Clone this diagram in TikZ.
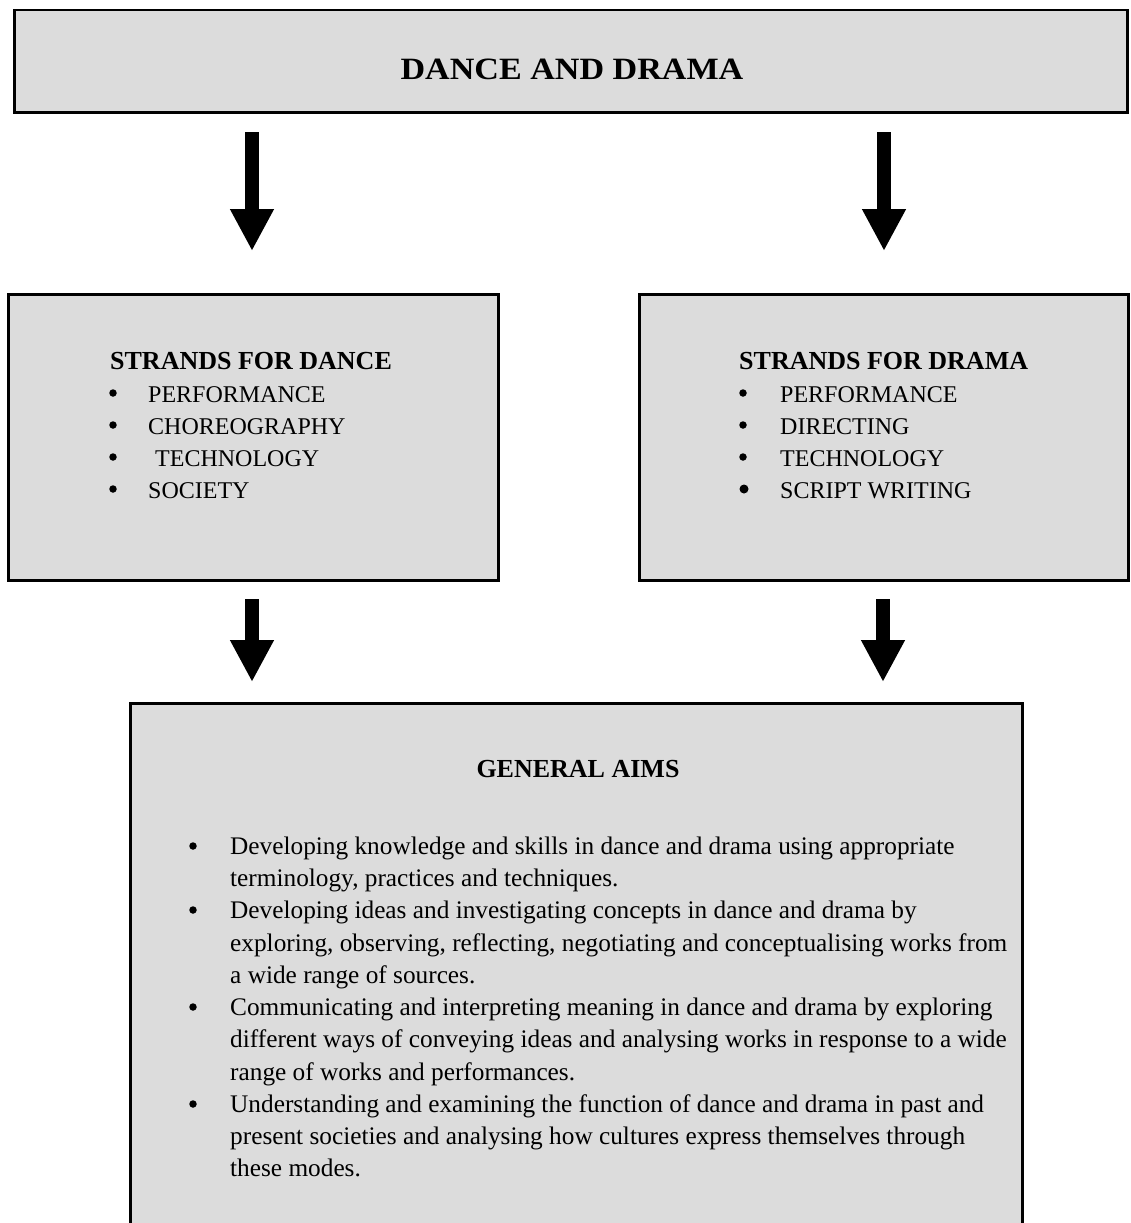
\documentclass[tikz,border=0pt]{standalone}
\usepackage{fontspec}
\setmainfont{Liberation Serif}
\newfontfamily\widefam{Liberation Serif}[FakeStretch=1.1]
\usetikzlibrary{arrows.meta}
\definecolor{boxgray}{RGB}{220,220,220}
\begin{document}
\begin{tikzpicture}[x=1pt,y=-1pt,
  box/.style={draw=black, line width=2.5pt, fill=boxgray, inner sep=0pt, anchor=north west},
  bigarrow/.style={line width=14pt, -{Triangle[width=41pt,length=42pt]}},
  titlefont/.style={font=\widefam\bfseries\fontsize{31}{32}\selectfont},
  headfont/.style={font=\bfseries\fontsize{26}{32}\selectfont},
  capsfont/.style={font=\fontsize{24}{32}\selectfont},
  bodyfont/.style={font=\fontsize{25.3}{32}\selectfont},
  txt/.style={bodyfont, anchor=base west, inner sep=0pt},
  ctxt/.style={capsfont, anchor=base west, inner sep=0pt},
  bul/.style={circle, fill=black, inner sep=0pt, minimum size=7.5pt}]
\useasboundingbox (0,0) rectangle (1130,1223);

% boxes
\node[box, minimum width=1113pt, minimum height=102pt] (top) at (13,9) {};
\node[box, minimum width=490pt, minimum height=286pt] (dance) at (7,293) {};
\node[box, minimum width=489pt, minimum height=286pt] (drama) at (638,293) {};
\node[box, minimum width=892pt, minimum height=560pt] (aims) at (129,702) {};

% title
\node[titlefont, anchor=base, inner sep=0pt] (ttl) at (572,80) {DANCE AND DRAMA};

% arrows
\coordinate (a1s) at (252,132); \coordinate (a1e) at (252,251);
\coordinate (a2s) at (884,132); \coordinate (a2e) at (884,251);
\coordinate (a3s) at (252,599); \coordinate (a3e) at (252,682);
\coordinate (a4s) at (883,599); \coordinate (a4e) at (883,682);
\draw[bigarrow] (a1s) -- (a1e);
\draw[bigarrow] (a2s) -- (a2e);
\draw[bigarrow] (a3s) -- (a3e);
\draw[bigarrow] (a4s) -- (a4e);

% dance strands
\node[headfont, anchor=base west, inner sep=0pt] (dh) at (110,369) {STRANDS FOR DANCE};
\node[bul] (db1) at (113,393) {};
\node[bul] (db2) at (113,425) {};
\node[bul] (db3) at (113,457) {};
\node[bul] (db4) at (113,489) {};
\node[ctxt] (dt1) at (148,402) {PERFORMANCE};
\node[ctxt] (dt2) at (148,434) {CHOREOGRAPHY};
\node[ctxt] (dt3) at (155,466) {TECHNOLOGY};
\node[ctxt] (dt4) at (148,498) {SOCIETY};

% drama strands
\node[headfont, anchor=base west, inner sep=0pt] (rh) at (739,369) {STRANDS FOR DRAMA};
\node[bul] (rb1) at (743,393) {};
\node[bul] (rb2) at (743,425) {};
\node[bul] (rb3) at (743,457) {};
\node[bul, minimum size=9pt] (rb4) at (744,489) {};
\node[ctxt] (rt1) at (780,402) {PERFORMANCE};
\node[ctxt] (rt2) at (780,434) {DIRECTING};
\node[ctxt] (rt3) at (780,466) {TECHNOLOGY};
\node[ctxt] (rt4) at (780,498) {SCRIPT WRITING};

% general aims
\node[headfont, anchor=base, inner sep=0pt] (ah) at (578,777) {GENERAL AIMS};
\node[bul] (ab1) at (193,846) {};
\node[bul] (ab2) at (193,910) {};
\node[bul] (ab3) at (193,1007) {};
\node[bul] (ab4) at (193,1104) {};
\node[txt] (al1) at (230,854) {Developing knowledge and skills in dance and drama using appropriate};
\node[txt] (al2) at (230,886) {terminology, practices and techniques.};
\node[txt] (al3) at (230,918) {Developing ideas and investigating concepts in dance and drama by};
\node[txt] (al4) at (230,951) {exploring, observing, reflecting, negotiating and conceptualising works from};
\node[txt] (al5) at (230,983) {a wide range of sources.};
\node[txt] (al6) at (230,1015) {Communicating and interpreting meaning in dance and drama by exploring};
\node[txt] (al7) at (230,1047) {different ways of conveying ideas and analysing works in response to a wide};
\node[txt] (al8) at (230,1080) {range of works and performances.};
\node[txt] (al9) at (230,1112) {Understanding and examining the function of dance and drama in past and};
\node[txt] (al10) at (230,1144) {present societies and analysing how cultures express themselves through};
\node[txt] (al11) at (230,1176) {these modes.};
\end{tikzpicture}
\end{document}
